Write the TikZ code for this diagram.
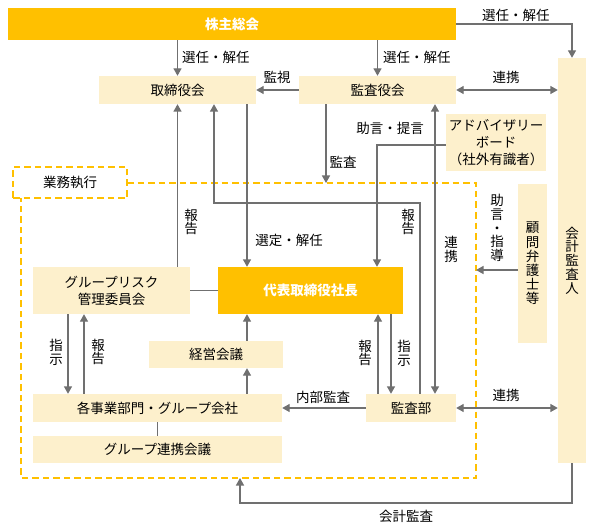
\documentclass[tikz,border=0pt]{standalone}
\usepackage{fontspec}
\setmainfont{Noto Sans CJK JP}
\usetikzlibrary{arrows.meta,calc}
\definecolor{org}{HTML}{FFC000}
\definecolor{crm}{HTML}{FDF0CC}
\definecolor{gln}{HTML}{707070}
\newcommand\fs{\fontsize{13.5}{17}\selectfont}
\newcommand\vfs{\fontsize{13.5}{13.8}\selectfont}
\tikzset{
 box/.style={fill=crm, inner sep=0pt, font=\fs},
 obox/.style={fill=org, inner sep=0pt, text=white, font=\fs\bfseries},
 ln/.style={draw=gln, line width=1.4pt},
 arr/.style={ln, -{Triangle[length=7.5pt,width=8pt]}},
 darr/.style={ln, {Triangle[length=7.5pt,width=8pt]}-{Triangle[length=7.5pt,width=8pt]}},
 lbl/.style={inner sep=0pt, font=\fs},
 vlbl/.style={inner sep=0pt, font=\vfs, align=center},
 dsh/.style={draw=org, line width=1.5pt, dash pattern=on 6.5pt off 4pt},
}
\begin{document}
\begin{tikzpicture}[x=1pt,y=-1pt]
\fill[white] (0,0) rectangle (593,529);
\useasboundingbox (0,0) rectangle (593,529);

% dashed frame
\draw[dsh] (127,183) -- (476,183) -- (476,478) -- (21,478) -- (21,198);
\node[dsh, fill=white, minimum width=114pt, minimum height=31pt, inner sep=0pt, font=\fs] (tab) at (70,182.5) {業務執行};

% boxes
\node[obox, minimum width=448pt, minimum height=32pt] (soukai) at (232,24) {株主総会};
\node[box, minimum width=157pt, minimum height=28pt] (tori) at (177.5,90) {取締役会};
\node[box, minimum width=157pt, minimum height=28pt] (kansay) at (377.5,90) {監査役会};
\node[box, minimum width=28pt, minimum height=405pt, align=center, font=\vfs] (kaikei) at (572,260.5) {会\\計\\監\\査\\人};
\node[box, minimum width=100pt, minimum height=57pt, align=center] (advis) at (496,142.5) {アドバイザリー\\ボード\\（社外有識者）};
\node[box, minimum width=29pt, minimum height=159pt, align=center, font=\fontsize{13.5}{14.2}\selectfont] (komon) at (532.5,263.5) {顧\\問\\弁\\護\\士\\等};
\node[obox, minimum width=185pt, minimum height=47pt] (daihyo) at (310.5,290.5) {代表取締役社長};
\node[box, minimum width=157pt, minimum height=47pt, align=center] (risk) at (111.5,290.5) {グループリスク\\管理委員会};
\node[box, minimum width=134pt, minimum height=27pt] (keiei) at (216,354.5) {経営会議};
\node[box, minimum width=249pt, minimum height=28pt] (jigyo) at (157.5,408) {各事業部門・グループ会社};
\node[box, minimum width=249pt, minimum height=27pt] (renkei) at (157.5,449.5) {グループ連携会議};
\node[box, minimum width=90pt, minimum height=28pt] (kansabu) at (411,408) {監査部};

% helper coordinates
\coordinate (c1) at (214,203);
\coordinate (c2) at (420,203);
\coordinate (xA) at (247,0);
\coordinate (xK) at (326,183);
\coordinate (xL) at (435,0);
\coordinate (xM) at (377,0);
\coordinate (cK) at (476,270);
\coordinate (xR1) at (68,0);
\coordinate (xR2) at (84,0);
\coordinate (xS1) at (378,0);
\coordinate (xS2) at (391,0);
\coordinate (cB) at (240,503);
\coordinate (cD) at (240,478);

% connectors
\draw[arr] (soukai.south -| tori) -- (tori.north);
\draw[arr] (soukai.south -| kansay) -- (kansay.north);
\draw[arr] (soukai.east) -| (kaikei.north);
\draw[arr] (kansay.west) -- (tori.east);
\draw[darr] (kansay.east) -- (kansay.east -| kaikei.west);
\draw[arr] (tori.south |- risk.north) -- (tori.south);
\draw[arr] (kansabu.north -| c2) -- (c2) -- (c1) -- (tori.south -| c1);
\draw[arr] (tori.south -| xA) -- (daihyo.north -| xA);
\draw[arr] (kansay.south -| xK) -- (xK);
\draw[darr] (kansabu.north -| xL) -- (kansay.south -| xL);
\draw[arr] ([yshift=-2.5pt]advis.west) -| (daihyo.north -| xM);
\draw[ln] (risk.east) -- (daihyo.west);
\draw[arr] (komon.west |- cK) -- (cK);
\draw[arr] (keiei.north -| xA) -- (daihyo.south -| xA);
\draw[arr] (jigyo.north -| xA) -- (keiei.south -| xA);
\draw[arr] (risk.south -| xR1) -- (jigyo.north -| xR1);
\draw[arr] (jigyo.north -| xR2) -- (risk.south -| xR2);
\draw[arr] (kansabu.west) -- (jigyo.east);
\draw[darr] (kansabu.east) -- (kansabu.east -| kaikei.west);
\draw[ln] (jigyo.south) -- (renkei.north);
\draw[arr] (kansabu.north -| xS1) -- (daihyo.south -| xS1);
\draw[arr] (daihyo.south -| xS2) -- (kansabu.north -| xS2);
\draw[arr] (kaikei.south) |- (cB) -- (cD);

% labels
\node[lbl, anchor=west] (l1) at (182,57) {選任・解任};
\node[lbl, anchor=west] (l2) at (383,57) {選任・解任};
\node[lbl, anchor=west] (l3) at (482,15) {選任・解任};
\node[lbl] (l4) at (277,77) {監視};
\node[lbl] (l5) at (506,77) {連携};
\node[lbl] (l6) at (390,128) {助言・提言};
\node[lbl] (l7) at (343,162) {監査};
\node[vlbl] (l8) at (191,222) {報\\告};
\node[lbl] (l9) at (289,240) {選定・解任};
\node[vlbl] (l10) at (408,222) {報\\告};
\node[vlbl] (l11) at (451,249) {連\\携};
\node[vlbl] (l12) at (497,228) {助\\言\\・\\指\\導};
\node[vlbl] (l13) at (56,352) {指\\示};
\node[vlbl] (l14) at (98,352) {報\\告};
\node[vlbl] (l15) at (365,353) {報\\告};
\node[vlbl] (l16) at (404,353) {指\\示};
\node[lbl] (l17) at (323,397) {内部監査};
\node[lbl] (l18) at (506,395) {連携};
\node[lbl] (l19) at (406,516) {会計監査};
\end{tikzpicture}
\end{document}
